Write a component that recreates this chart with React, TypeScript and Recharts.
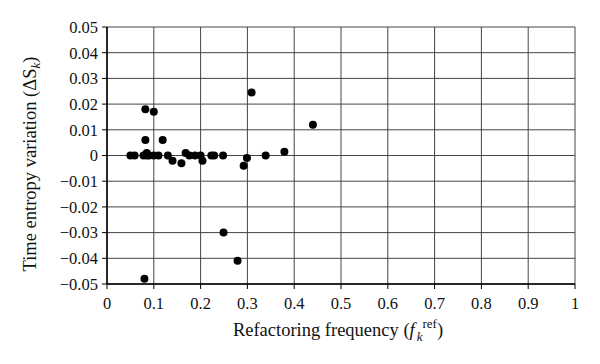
import React from "react";
import { ScatterChart, Scatter, XAxis, YAxis, CartesianGrid } from "recharts";

const xs = [0.05, 0.059, 0.078, 0.085, 0.09, 0.1, 0.11, 0.13, 0.176, 0.188, 0.2, 0.223, 0.229, 0.248, 0.339,
  0.085, 0.168, 0.082, 0.1, 0.082, 0.119, 0.309, 0.44, 0.379, 0.14, 0.159, 0.204, 0.299, 0.292, 0.249, 0.279, 0.08];
const ys = [0, 0, 0, 0, 0, 0, 0, 0, 0, 0, 0, 0, 0, 0, 0,
  0.001, 0.001, 0.018, 0.017, 0.006, 0.006, 0.0245, 0.012, 0.0015, -0.002, -0.003, -0.002, -0.001, -0.004, -0.03, -0.041, -0.048];
const xTicks = [0, 0.1, 0.2, 0.3, 0.4, 0.5, 0.6, 0.7, 0.8, 0.9, 1];
const yTicks = [-0.05, -0.04, -0.03, -0.02, -0.01, 0, 0.01, 0.02, 0.03, 0.04, 0.05];

const data = xs.map((x, i) => ({ x, y: ys[i] }));

const FONT = "'Liberation Serif', 'DejaVu Serif', serif";

const fmtY = (v: number) => {
  if (Math.abs(v) < 1e-9) return "0";
  const s = Math.abs(v).toFixed(2);
  return v < 0 ? "\u2212" + s : s;
};
const fmtX = (v: number) => (v === 0 ? "0" : v === 1 ? "1" : v.toFixed(1));

const Dot = (props: any) => {
  const { cx, cy } = props;
  return <circle cx={cx} cy={cy} r={4} fill="#000" />;
};

export default function App() {
  return (
    <div style={{ position: "absolute", left: 0, top: 0, width: 600, height: 364, background: "#fff" }}>
      <ScatterChart width={600} height={364} margin={{ top: 27, right: 25, left: 0, bottom: 0 }}>
        <CartesianGrid stroke="#444" strokeWidth={1} horizontalValues={yTicks} verticalValues={xTicks} />
        <XAxis
          type="number"
          dataKey="x"
          domain={[0, 1]}
          ticks={xTicks}
          tickFormatter={fmtX}
          height={80}
          axisLine={{ stroke: "#000", strokeWidth: 1.5 }}
          tickLine={{ stroke: "#000" }}
          tickSize={5}
          tickMargin={8}
          tick={{ fill: "#111", fontSize: 16.5, fontFamily: FONT }}
          interval={0}
        />
        <YAxis
          type="number"
          dataKey="y"
          domain={[-0.05, 0.05]}
          ticks={yTicks}
          tickFormatter={fmtY}
          width={107}
          axisLine={{ stroke: "#000", strokeWidth: 1.5 }}
          tickLine={{ stroke: "#000" }}
          tickSize={5}
          tickMargin={4}
          tick={{ fill: "#111", fontSize: 16.5, fontFamily: FONT }}
          interval={0}
        />
        <Scatter data={data} shape={<Dot />} isAnimationActive={false} />
        <text x={338} y={336} textAnchor="middle" fontFamily={FONT} fontSize={18.5} fill="#111">
          Refactoring frequency (
          <tspan fontStyle="italic">f</tspan>
          <tspan fontStyle="italic" fontSize={13} dy={5} dx={2}>k</tspan>
          <tspan fontSize={13} dy={-13}>ref</tspan>
          <tspan dy={8}>)</tspan>
        </text>
        <text
          x={0}
          y={0}
          transform="translate(36,164) rotate(-90)"
          textAnchor="middle"
          fontFamily={FONT}
          fontSize={18.5}
          fill="#111"
        >
          Time entropy variation (ΔS
          <tspan fontStyle="italic" fontSize={13} dy={4}>k</tspan>
          <tspan dy={-4}>)</tspan>
        </text>
      </ScatterChart>
    </div>
  );
}
